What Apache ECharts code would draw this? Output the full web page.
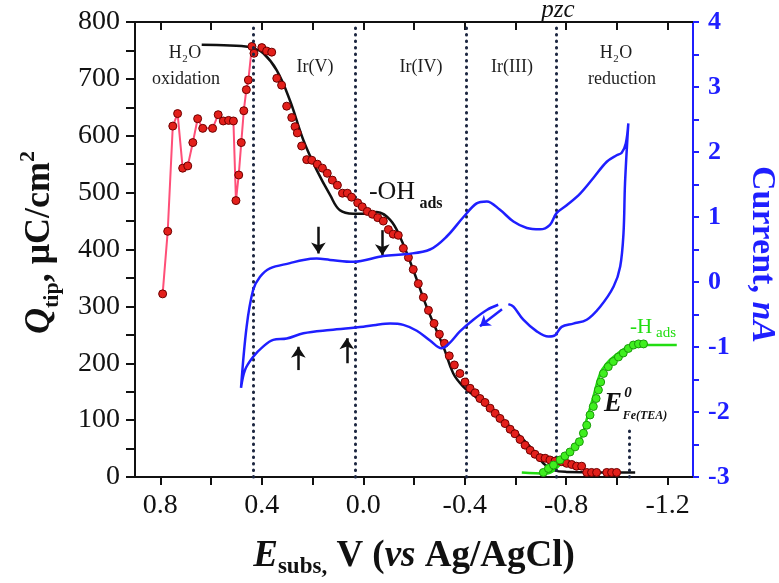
<!DOCTYPE html>
<html><head><meta charset="utf-8">
<script src="https://cdn.jsdelivr.net/npm/echarts@6/dist/echarts.min.js"></script>
<style>html,body{margin:0;padding:0;background:#fff}#c{width:779px;height:583px}</style>
</head><body><div id="c"></div>
<script>
// ---- data ----
const oxE = [0.791,0.771,0.751,0.732,0.712,0.692,0.672,0.653,0.633,0.594,0.572,0.552,0.531,0.512,0.502,0.491,0.481,0.471,0.461,0.453,0.439,0.431];
const oxQ = [322,432,617,639,543,547,588,630,613,613,637,626,627,626,486,531,588,644,681,698,757,745];

const dotE = [0.400,0.381,0.361,0.341,0.322,0.302,0.282,0.269,0.260,0.243,0.223,0.203,0.181,0.161,0.142,0.122,0.102,0.082,0.063,0.046,0.022,0.004,-0.016,-0.036,-0.057,-0.079,-0.099,-0.118,-0.138,-0.158,-0.178,-0.197,-0.217,-0.237,-0.257,-0.279,-0.300,-0.320,-0.339,-0.359,-0.381,-0.401,-0.421,-0.441,-0.460,-0.480,-0.500,-0.520,-0.539,-0.559,-0.579,-0.598,-0.618,-0.638,-0.658,-0.677,-0.697,-0.717,-0.736,-0.756,-0.782,-0.802,-0.822,-0.841,-0.861,-0.881,-0.900,-0.920,-0.960,-0.979,-0.999];
const dotQ = [755,749,747,701,689,652,632,616,605,582,558,557,550,543,534,522,513,499,499,492,482,475,467,462,456,450,435,427,425,402,386,365,340,316,293,270,251,235,213,197,182,167,156,148,138,131,121,112,103,94,84,76,66,56,47,40,34,33,30,28,27,24,22,19,19,8,8,8,8,8,8];

const fitE = [0.637,0.55,0.48,0.434,0.394,0.341,0.289,0.236,0.184,0.131,0.092,0.039,-0.014,-0.053,-0.106,-0.145,-0.197,-0.250,-0.316,-0.355,-0.394,-0.434,-0.513,-0.592,-0.658,-0.710,-0.750,-0.802,-1.072];
const fitQ = [760,759,758,754,745,715,662,592,540,496,469,463,463,466,452,422,364,299,229,182,159,144,115,83,53,24,12,9,8];

const hLineE = [-0.625,-0.723,-0.760,-0.802,-0.855,-0.880,-0.907,-0.934,-0.960,-0.986,-1.052,-1.105,-1.236];
const hLineQ = [8,6,15,36,65,100,141,182,200,211,230,232,232];

const hDotE = [-0.710,-0.730,-0.750,-0.776,-0.795,-0.815,-0.835,-0.852,-0.868,-0.881,-0.894,-0.907,-0.918,-0.927,-0.936,-0.947,-0.966,-0.986,-1.006,-1.025,-1.045,-1.065,-1.085,-1.105];
const hDotQ = [8,15,21,30,37,44,53,62,77,91,109,124,138,153,167,182,194,203,211,218,226,232,234,234];

const cvE = [-0.532,-0.487,-0.434,-0.381,-0.340,-0.309,-0.263,-0.211,-0.158,-0.106,-0.050,0.000,0.131,0.236,0.302,0.355,0.394,0.434,0.466,0.482,
             0.460,0.434,0.407,0.368,0.289,0.236,0.184,0.131,0.039,-0.079,-0.171,-0.263,-0.329,-0.395,-0.447,-0.487,-0.539,-0.592,-0.645,-0.697,-0.736,-0.762,-0.802,-0.855,-0.907,-0.960,-0.999,-1.019,-1.035,-1.045,
             -1.032,-1.026,-1.013,-0.987,-0.934,-0.881,-0.828,-0.782,-0.756,-0.730,-0.684,-0.631,-0.592,-0.572];
const cvI = [-0.35,-0.43,-0.58,-0.76,-0.94,-1.02,-0.90,-0.75,-0.66,-0.64,-0.66,-0.69,-0.74,-0.79,-0.87,-0.89,-0.99,-1.15,-1.35,-1.63,
             -0.69,-0.12,0.08,0.21,0.29,0.34,0.36,0.34,0.31,0.40,0.43,0.50,0.70,1.00,1.21,1.24,1.11,0.93,0.83,0.81,0.88,1.06,1.18,1.36,1.60,1.85,1.95,1.99,2.13,2.44,
             1.52,0.75,0.24,-0.07,-0.38,-0.58,-0.64,-0.69,-0.82,-0.84,-0.76,-0.58,-0.38,-0.34];

const regionLines = [0.433, 0.033, -0.405, -0.759];
const e0Line = -1.049, e0Top = 88;
const downArrowsE = [0.177, -0.075]; const downArrowsQ = [[440,393],[434,390]];
const upArrowsE = [0.256, 0.065];   const upArrowsQ = [[188,229],[200,244]];
const cvArrow = [[-0.547,-0.42],[-0.460,-0.68]];

const xTickValues = [-1.2,-1.0,-0.8,-0.6,-0.4,-0.2,0,0.2,0.4,0.6,0.8];
const xLabelValues = [-1.2,-0.8,-0.4,0,0.4,0.8];
const qTickValues = [0,50,100,150,200,250,300,350,400,450,500,550,600,650,700,750,800];
const iTickValues = [-3,-2.5,-2,-1.5,-1,-0.5,0,0.5,1,1.5,2,2.5,3,3.5,4];

// ---- build ----
const zip = (a,b) => a.map((v,i)=>[v,b[i]]);
const SERIF = 'Liberation Serif';
const BLUE = '#1f1fff';
const dotLines = regionLines.map(e => [{coord:[e,0]},{coord:[e,800]}]);
dotLines.push([{coord:[e0Line,0]},{coord:[e0Line,e0Top]}]);
const arrowLines = [];
downArrowsE.forEach((e,i)=>arrowLines.push([{coord:[e,downArrowsQ[i][0]]},{coord:[e,downArrowsQ[i][1]]}]));
upArrowsE.forEach((e,i)=>arrowLines.push([{coord:[e,upArrowsQ[i][0]]},{coord:[e,upArrowsQ[i][1]]}]));

const chart = echarts.init(document.getElementById('c'), null, {renderer:'canvas'});
const txt = (x,y,text,o) => Object.assign({type:'text', x:x, y:y, style:Object.assign({text:text, fontFamily:SERIF, fontSize:18, fill:'#1e1e1e', align:'center', verticalAlign:'middle'}, o||{})});

chart.setOption({
  animation:false,
  backgroundColor:'#fff',
  grid:{left:135, right:86, top:22, bottom:106, containLabel:false, outerBoundsMode:'none'},
  xAxis:[{
    type:'value', min:-1.3, max:0.9, inverse:true, position:'bottom',
    axisLine:{onZero:false, lineStyle:{color:'#111', width:2}},
    axisTick:{show:true, length:8, inside:false, customValues:xTickValues, lineStyle:{color:'#111', width:2}},
    axisLabel:{customValues:xLabelValues, margin:15, fontFamily:SERIF, fontSize:28, color:'#111', formatter:v=>(Math.abs(v)<1e-9?'0.0':v.toFixed(1))},
    splitLine:{show:false},
    name:'{ei|E}{sub|subs,}{b| V (}{i|vs}{b| Ag/AgCl)}', nameLocation:'middle', nameGap:56,
    nameTextStyle:{rich:{
      ei:{fontFamily:SERIF, fontSize:37, fontWeight:'bold', fontStyle:'italic', color:'#111', lineHeight:46},
      sub:{fontFamily:SERIF, fontSize:23, fontWeight:'bold', color:'#111', lineHeight:20, verticalAlign:'bottom'},
      b:{fontFamily:SERIF, fontSize:37, fontWeight:'bold', color:'#111', lineHeight:46},
      i:{fontFamily:SERIF, fontSize:37, fontWeight:'bold', fontStyle:'italic', color:'#111', lineHeight:46}
    }}
  },{
    type:'value', min:-1.3, max:0.9, inverse:true, position:'top',
    axisLine:{onZero:false, lineStyle:{color:'#111', width:2}},
    axisTick:{show:true, length:8, inside:true, customValues:xTickValues, lineStyle:{color:'#111', width:2}},
    axisLabel:{show:false}, splitLine:{show:false}
  }],
  yAxis:[{
    type:'value', min:0, max:800, interval:100, position:'left',
    axisLine:{show:true, onZero:false, lineStyle:{color:'#111', width:2}},
    axisTick:{show:true, length:9, customValues:qTickValues, lineStyle:{color:'#111', width:2}},
    axisLabel:{margin:15, fontFamily:SERIF, fontSize:28, color:'#111'},
    splitLine:{show:false},
    name:'{qi|Q}{sub|tip}{b|, μC/cm}{sup|2}', nameLocation:'middle', nameGap:72,
    nameTextStyle:{padding:[0,0,0,14], rich:{
      qi:{fontFamily:SERIF, fontSize:36, fontWeight:'bold', fontStyle:'italic', color:'#111', lineHeight:46},
      sub:{fontFamily:SERIF, fontSize:22, fontWeight:'bold', color:'#111', lineHeight:20, verticalAlign:'bottom'},
      b:{fontFamily:SERIF, fontSize:36, fontWeight:'bold', color:'#111', lineHeight:46},
      sup:{fontFamily:SERIF, fontSize:22, fontWeight:'bold', color:'#111', lineHeight:20, verticalAlign:'top'}
    }}
  },{
    type:'value', min:-3, max:4, interval:1, position:'right',
    axisLine:{show:true, onZero:false, lineStyle:{color:BLUE, width:2}},
    axisTick:{show:true, length:6, customValues:iTickValues, lineStyle:{color:BLUE, width:2}},
    axisLabel:{margin:15, fontFamily:SERIF, fontSize:26, fontWeight:'bold', color:BLUE},
    splitLine:{show:false},
    name:'{b|Current, }{i|nA}', nameLocation:'middle', nameGap:52, nameRotate:-90,
    nameTextStyle:{padding:[0,0,0,10], rich:{
      b:{fontFamily:SERIF, fontSize:34, fontWeight:'bold', color:BLUE},
      i:{fontFamily:SERIF, fontSize:34, fontWeight:'bold', fontStyle:'italic', color:BLUE}
    }}
  }],
  series:[
    {type:'line', name:'fit', xAxisIndex:0, yAxisIndex:0, data:zip(fitE,fitQ), smooth:0.4, symbol:'none',
     lineStyle:{color:'#111', width:2.5}, z:3,
     markLine:{silent:true, symbol:'none', label:{show:false},
       lineStyle:{color:'#1c2640', width:3, type:[0.5,6], cap:'round'}, data:dotLines}},
    {type:'line', name:'oxidation', xAxisIndex:0, yAxisIndex:0, data:zip(oxE,oxQ), symbol:'circle', symbolSize:8,
     lineStyle:{color:'#ff4f78', width:2}, itemStyle:{color:'#e3201b', borderColor:'#6e0000', borderWidth:1}, z:4},
    {type:'scatter', name:'tip', xAxisIndex:0, yAxisIndex:0, data:zip(dotE,dotQ), symbol:'circle', symbolSize:8,
     itemStyle:{color:'#e3201b', borderColor:'#6e0000', borderWidth:1, opacity:1}, z:5},
    {type:'line', name:'Hline', xAxisIndex:0, yAxisIndex:0, data:zip(hLineE,hLineQ), smooth:0.4, symbol:'none',
     lineStyle:{color:'#22dd11', width:2.5}, z:4},
    {type:'scatter', name:'Hdots', xAxisIndex:0, yAxisIndex:0, data:zip(hDotE,hDotQ), symbol:'circle', symbolSize:8,
     itemStyle:{color:'#3fef1f', borderColor:'#1a9a0a', borderWidth:1, opacity:1}, z:5},
    {type:'line', name:'arrows', xAxisIndex:0, yAxisIndex:0, data:[], symbol:'none',
     markLine:{silent:true, symbol:['none','arrow'], symbolSize:11, label:{show:false},
       lineStyle:{color:'#111', width:2.5, type:'solid'}, data:arrowLines}},
    {type:'line', name:'CV', xAxisIndex:0, yAxisIndex:1, data:zip(cvE,cvI), smooth:0.35, symbol:'none',
     lineStyle:{color:BLUE, width:2.5}, z:6,
     markLine:{silent:true, symbol:['none','arrow'], symbolSize:10, label:{show:false},
       lineStyle:{color:BLUE, width:2.5, type:'solid'},
       data:[[{coord:cvArrow[0]},{coord:cvArrow[1]}]]}}
  ],
  graphic:[
    txt(185,53,'H₂O'), txt(186,79,'oxidation'),
    txt(315,67,'Ir(V)'), txt(421,67,'Ir(IV)'), txt(512,67,'Ir(III)'),
    txt(616,53,'H₂O'), txt(622,79,'reduction'),
    txt(558,10,'pzc',{fontSize:25, fontStyle:'italic', fill:'#111'}),
    txt(392,192,'-OH',{fontSize:26, fill:'#111'}),
    txt(431,204,'ads',{fontSize:16, fill:'#111', fontWeight:'bold'}),
    txt(641,327,'-H',{fontSize:21, fill:'#22dd11'}),
    txt(666,333,'ads',{fontSize:15, fill:'#22dd11'}),
    txt(613,404,'E',{fontSize:27, fontStyle:'italic', fontWeight:'bold', fill:'#111'}),
    txt(628,393,'0',{fontSize:15, fontStyle:'italic', fontWeight:'bold', fill:'#111'}),
    txt(645,416,'Fe(TEA)',{fontSize:12, fontStyle:'italic', fontWeight:'bold', fill:'#111'})
  ]
});
</script></body></html>
